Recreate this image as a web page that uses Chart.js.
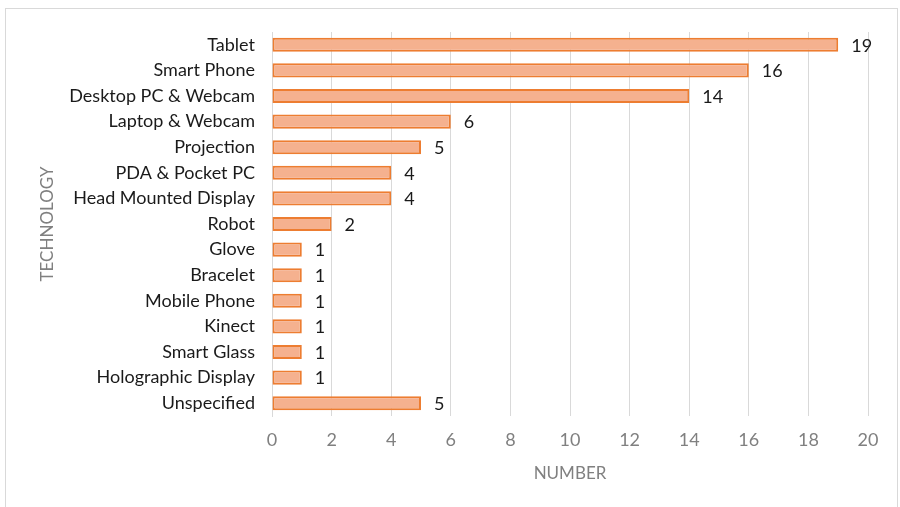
<!DOCTYPE html>
<html>
<head>
<meta charset="utf-8">
<script src="https://cdn.jsdelivr.net/npm/chart.js@4.4.1/dist/chart.umd.min.js"></script>
<style>
  html, body { margin: 0; padding: 0; background: #fff; }
  #wrap { position: relative; width: 900px; height: 507px; }
  #frame { position: absolute; left: 5px; top: 8px; width: 893px; height: 505px; border: 1px solid #d9d9d9; box-sizing: border-box; }
  canvas { position: absolute; left: 0; top: 0; }
</style>
</head>
<body>
<div id="wrap">
  <div id="frame"></div>
  <canvas id="chart" width="900" height="507"></canvas>
</div>
<script>
const technologies = [
  "Tablet", "Smart Phone", "Desktop PC & Webcam", "Laptop & Webcam", "Projection",
  "PDA & Pocket PC", "Head Mounted Display", "Robot", "Glove", "Bracelet",
  "Mobile Phone", "Kinect", "Smart Glass", "Holographic Display", "Unspecified"
];
const counts = [19, 16, 14, 6, 5, 4, 4, 2, 1, 1, 1, 1, 1, 1, 5];
const xTicks = [0, 2, 4, 6, 8, 10, 12, 14, 16, 18, 20];

const FONT = "Lato, 'Open Sans', sans-serif";

// value at the end of each bar
const barValues = {
  id: 'barValues',
  afterDatasetsDraw(chart) {
    const ctx = chart.ctx;
    const meta = chart.getDatasetMeta(0);
    ctx.save();
    ctx.font = "18px " + FONT;
    ctx.fillStyle = "#1a1a1a";
    ctx.textAlign = "left";
    ctx.textBaseline = "middle";
    meta.data.forEach((bar, i) => {
      ctx.fillText(String(counts[i]), bar.x + 13, bar.y + 1);
    });
    ctx.restore();
  }
};

new Chart(document.getElementById("chart"), {
  type: "bar",
  data: {
    labels: technologies,
    datasets: [{
      data: counts,
      backgroundColor: "#F5B18F",
      borderColor: "#ED7D31",
      borderWidth: 2,
      borderSkipped: false,
      barPercentage: 0.55,
      categoryPercentage: 1.0
    }]
  },
  options: {
    indexAxis: "y",
    responsive: false,
    animation: false,
    layout: { padding: { left: 33, right: 32, top: 32, bottom: 19 } },
    plugins: {
      legend: { display: false },
      tooltip: { enabled: false }
    },
    scales: {
      x: {
        min: 0,
        max: 20,
        afterBuildTicks: s => { s.ticks = xTicks.map(v => ({ value: v })); },
        afterFit: s => { s.height = 72; },
        grid: { color: "#d9d9d9", lineWidth: 1, drawTicks: false },
        border: { display: false },
        ticks: { color: "#808080", font: { family: FONT, size: 18 }, padding: 13 },
        title: { display: true, text: "NUMBER", color: "#808080", font: { family: FONT, size: 17 } }
      },
      y: {
        afterFit: s => { s.width = 239; },
        grid: { display: false, drawTicks: false },
        border: { display: true, color: "#d9d9d9", width: 1 },
        ticks: { color: "#1a1a1a", font: { family: FONT, size: 18 }, padding: 17 },
        title: { display: true, text: "TECHNOLOGY", color: "#808080", font: { family: FONT, size: 17 } }
      }
    }
  },
  plugins: [barValues]
});
</script>
</body>
</html>
